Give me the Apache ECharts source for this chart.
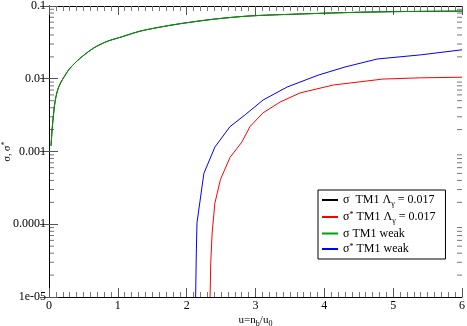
<!DOCTYPE html>
<html>
<head>
<meta charset="utf-8">
<script src="https://cdn.jsdelivr.net/npm/echarts@6/dist/echarts.min.js"></script>
<style>
  html, body { margin: 0; padding: 0; background: #fff; }
  #chart { width: 467px; height: 326px; }
</style>
</head>
<body>
<div id="chart"></div>
<script>
// sigma, TM1 with Lambda_v = 0.017 (black) and weak (green) nearly coincide
var uSigma = [0.03, 0.045, 0.062, 0.08, 0.10, 0.13, 0.174, 0.23, 0.29, 0.35, 0.42, 0.49, 0.65, 0.84, 1.05, 1.32, 1.6, 1.9, 2.4, 2.92, 3.71, 4.5, 5.2, 6.0];
var sigmaLam = [0.0012, 0.0020, 0.0030, 0.0043, 0.0056, 0.0072, 0.0090, 0.0110, 0.0134, 0.0155, 0.018, 0.0205, 0.0265, 0.0325, 0.0375, 0.045, 0.051, 0.057, 0.066, 0.073, 0.078, 0.082, 0.084, 0.085];
var sigmaWeak = [0.0012, 0.0020, 0.0030, 0.0043, 0.0056, 0.0072, 0.0090, 0.0110, 0.0134, 0.0155, 0.018, 0.0205, 0.0265, 0.0325, 0.0375, 0.045, 0.051, 0.057, 0.066, 0.073, 0.078, 0.082, 0.084, 0.085];

// sigma*, TM1 Lambda_v = 0.017 (red)
var uStarLam = [2.34, 2.35, 2.37, 2.41, 2.49, 2.63, 2.80, 2.92, 3.11, 3.36, 3.65, 4.13, 4.85, 5.4, 6.0];
var starLam = [1e-5, 3e-5, 7.6e-5, 1.95e-4, 4.1e-4, 8.3e-4, 1.34e-3, 2.2e-3, 3.4e-3, 4.8e-3, 6.4e-3, 8.2e-3, 9.9e-3, 1.03e-2, 1.05e-2];

// sigma*, TM1 weak (blue)
var uStarWeak = [2.13, 2.14, 2.15, 2.25, 2.41, 2.63, 2.85, 3.11, 3.46, 3.91, 4.3, 4.77, 5.4, 6.0];
var starWeak = [1e-5, 4e-5, 1.05e-4, 5e-4, 1.15e-3, 2.2e-3, 3.2e-3, 5.1e-3, 7.7e-3, 1.12e-2, 1.45e-2, 1.87e-2, 2.13e-2, 2.5e-2];

var yTickLabels = {'-5': '1e-05', '-4': '0.0001', '-3': '0.001', '-2': '0.01', '-1': '0.1'};

function pairs(xs, ys) {
    return xs.map(function (x, i) { return [x, ys[i]]; });
}

var font = 'Liberation Serif';
var richText = {
    sub: { fontFamily: font, fontSize: 8, padding: [7, 0, 0, 0] },
    sup: { fontFamily: font, fontSize: 8, padding: [0, 0, 5, 0] }
};

var myChart = echarts.init(document.getElementById('chart'));

var xAxisBase = {
    type: 'value', min: 0, max: 6, interval: 1,
    axisLine: { lineStyle: { color: '#000', width: 1 } },
    axisTick: { inside: true, length: 9, lineStyle: { color: '#555' } },
    minorTick: { show: true, splitNumber: 10, length: 5, lineStyle: { color: '#777' } },
    splitLine: { show: false },
    minorSplitLine: { show: false }
};
var yAxisBase = {
    type: 'log', logBase: 10, min: 1e-5, max: 0.1,
    axisLine: { show: true, lineStyle: { color: '#000', width: 1 } },
    axisTick: { inside: true, length: 9, lineStyle: { color: '#555' } },
    splitLine: { show: false }
};

var option = {
    animation: false,
    backgroundColor: '#fff',
    grid: { left: 49, right: 5, top: 6, bottom: 29, containLabel: false, outerBoundsMode: 'none' },
    legend: {
        orient: 'vertical',
        left: 318, top: 190,
        padding: [4, 10, 4, 4],
        itemGap: 3,
        itemWidth: 16, itemHeight: 2,
        icon: 'rect',
        borderColor: '#000', borderWidth: 1,
        backgroundColor: '#fff',
        data: ['sigLam', 'starLam', 'sigWeak', 'starWeak'],
        formatter: function (name) {
            return {
                sigLam: 'σ  TM1 Λ{sub|γ} = 0.017',
                starLam: 'σ{sup|*} TM1 Λ{sub|γ} = 0.017',
                sigWeak: 'σ TM1 weak',
                starWeak: 'σ{sup|*} TM1 weak'
            }[name];
        },
        textStyle: { fontFamily: font, fontSize: 12, color: '#000', rich: richText }
    },
    xAxis: [
        Object.assign({}, xAxisBase, {
            position: 'bottom',
            axisLabel: { fontFamily: font, fontSize: 12, color: '#000', margin: 3 },
            name: 'u=n{sub|b}/u{sub|0}',
            nameLocation: 'middle', nameGap: 16, nameMoveOverlap: false,
            nameTextStyle: { fontFamily: font, fontSize: 11, color: '#000', rich: richText }
        }),
        Object.assign({}, xAxisBase, { position: 'top', axisLabel: { show: false } })
    ],
    yAxis: [
        Object.assign({}, yAxisBase, {
            position: 'left',
            axisLabel: {
                fontFamily: font, fontSize: 12, color: '#000', margin: 3,
                formatter: function (v) {
                    return yTickLabels[String(Math.round(Math.log10(v)))] || '';
                }
            },
            name: 'σ, σ{sup|*}',
            nameLocation: 'middle', nameGap: 35, nameRotate: 90, nameMoveOverlap: false,
            nameTextStyle: { fontFamily: font, fontSize: 10, color: '#000', rich: richText }
        }),
        Object.assign({}, yAxisBase, { position: 'right', axisLabel: { show: false } })
    ],
    series: [
        { name: 'sigLam', type: 'line', data: pairs(uSigma, sigmaLam), symbol: 'none', smooth: 0.3, color: '#000', lineStyle: { width: 1 } },
        { name: 'starLam', type: 'line', data: pairs(uStarLam, starLam), symbol: 'none', color: '#ff0000', lineStyle: { width: 1 } },
        { name: 'sigWeak', type: 'line', data: pairs(uSigma, sigmaWeak), symbol: 'none', smooth: 0.3, color: '#00a000', lineStyle: { width: 1 } },
        { name: 'starWeak', type: 'line', data: pairs(uStarWeak, starWeak), symbol: 'none', color: '#0000ff', lineStyle: { width: 1 } }
    ]
};
myChart.setOption(option);

// log minor ticks (2..9 per decade) on left and right frame, placed through the y scale
var minorTicks = [];
var left = 49, right = 467 - 5;
for (var n = -5; n <= -2; n++) {
    for (var k = 2; k <= 9; k++) {
        var py = myChart.convertToPixel({ yAxisIndex: 0 }, k * Math.pow(10, n));
        minorTicks.push({ type: 'line', shape: { x1: left, y1: py, x2: left + 5, y2: py }, style: { stroke: '#777', lineWidth: 1 } });
        minorTicks.push({ type: 'line', shape: { x1: right, y1: py, x2: right - 5, y2: py }, style: { stroke: '#777', lineWidth: 1 } });
    }
}
myChart.setOption({ graphic: minorTicks });
</script>
</body>
</html>
